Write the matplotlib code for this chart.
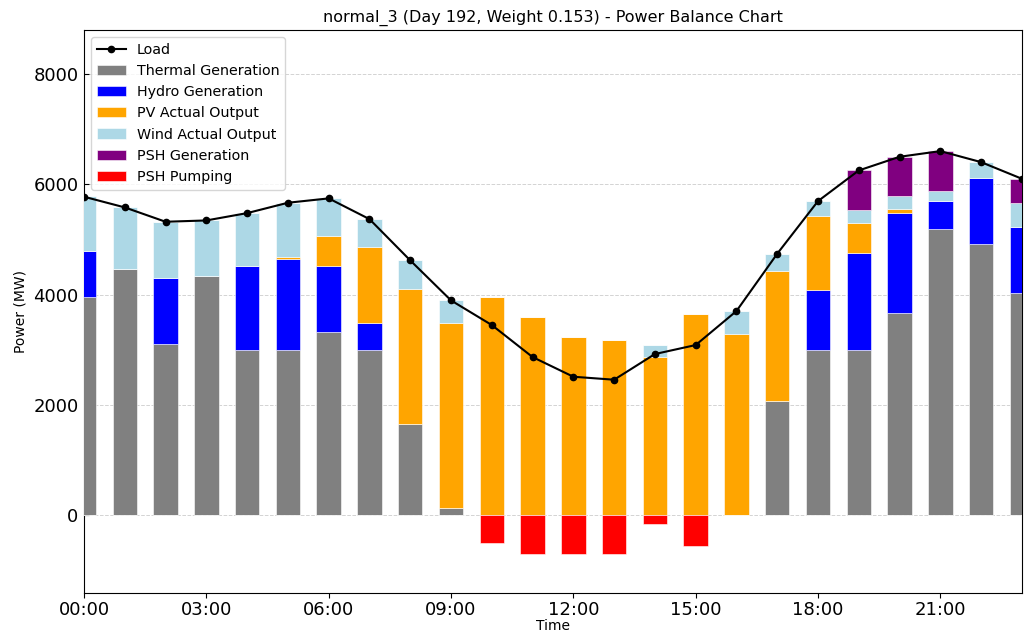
import matplotlib
matplotlib.use("Agg")
import matplotlib.pyplot as plt
import numpy as np

hours = list(range(24))
tick_hours = [0, 3, 6, 9, 12, 15, 18, 21]
tick_labels = ["00:00", "03:00", "06:00", "09:00", "12:00", "15:00", "18:00", "21:00"]

load = [5775, 5581, 5321, 5345, 5478, 5666, 5745, 5369, 4620, 3894, 3447, 2866,
        2509, 2455, 2921, 3084, 3701, 4741, 5696, 6252, 6500, 6603, 6403, 6101]
thermal = [3960, 4462, 3102, 4341, 3000, 3000, 3320, 3000, 1645, 121, 0, 0,
           0, 0, 0, 0, 0, 2062, 2995, 2995, 3670, 5194, 4916, 4027]
hydro = [830, 0, 1203, 0, 1511, 1644, 1191, 477, 0, 0, 0, 0,
         0, 0, 0, 0, 0, 0, 1087, 1758, 1802, 496, 1203, 1203]
pv = [0, 0, 0, 0, 0, 36, 556, 1385, 2449, 3356, 3949, 3586,
      3229, 3169, 2866, 3646, 3289, 2364, 1342, 544, 85, 0, 0, 0]
wind = [997, 1119, 1016, 1010, 967, 986, 678, 507, 526, 417, 0, 0,
        0, 0, 218, 0, 412, 315, 272, 236, 230, 187, 284, 436]
psh_gen = [0, 0, 0, 0, 0, 0, 0, 0, 0, 0, 0, 0,
           0, 0, 0, 0, 0, 0, 0, 719, 713, 726, 0, 435]
psh_pump = [0, 0, 0, 0, 0, 0, 0, 0, 0, 0, -502, -713,
            -713, -713, -157, -562, 0, 0, 0, 0, 0, 0, 0, 0]

fig = plt.figure(figsize=(10.26, 6.32), dpi=100)
ax = fig.add_axes([0.0819, 0.0617, 0.9141, 0.8908])

x = np.array(hours, dtype=float)
w = 0.6
ekw = dict(edgecolor="white", linewidth=0.4)
bottom = np.zeros(24)
series = [
    (thermal, "gray", "Thermal Generation"),
    (hydro, "blue", "Hydro Generation"),
    (pv, "orange", "PV Actual Output"),
    (wind, "lightblue", "Wind Actual Output"),
    (psh_gen, "purple", "PSH Generation"),
]
handles = []
line, = ax.plot(x, load, color="black", marker="o", markersize=4.5, linewidth=1.5,
                label="Load", zorder=5)
handles.append(line)
for vals, col, lab in series:
    v = np.array(vals, dtype=float)
    b = ax.bar(x, v, w, bottom=bottom, color=col, label=lab, zorder=3, **ekw)
    handles.append(b)
    bottom = bottom + v
b = ax.bar(x, psh_pump, w, color="red", label="PSH Pumping", zorder=3, **ekw)
handles.append(b)

ax.set_xlim(0, 23)
ax.set_ylim(-1415, 8800)
ax.set_xticks(tick_hours)
ax.set_xticklabels(tick_labels)
ax.set_yticks([0, 2000, 4000, 6000, 8000])
ax.tick_params(axis="x", labelsize=13, direction="out", pad=2)
ax.tick_params(axis="y", labelsize=13, direction="in", pad=4)
ax.yaxis.grid(True, linestyle="--", color="lightgray", linewidth=0.7, zorder=0)
ax.set_axisbelow(True)
ax.set_xlabel("Time", fontsize=10, labelpad=0)
ax.set_ylabel("Power (MW)", fontsize=10)
ax.set_title("normal_3 (Day 192, Weight 0.153) - Power Balance Chart", fontsize=11.5)
ax.legend(handles=handles, loc="upper left", fontsize=10.3)

fig.savefig("out.png", dpi=100)
